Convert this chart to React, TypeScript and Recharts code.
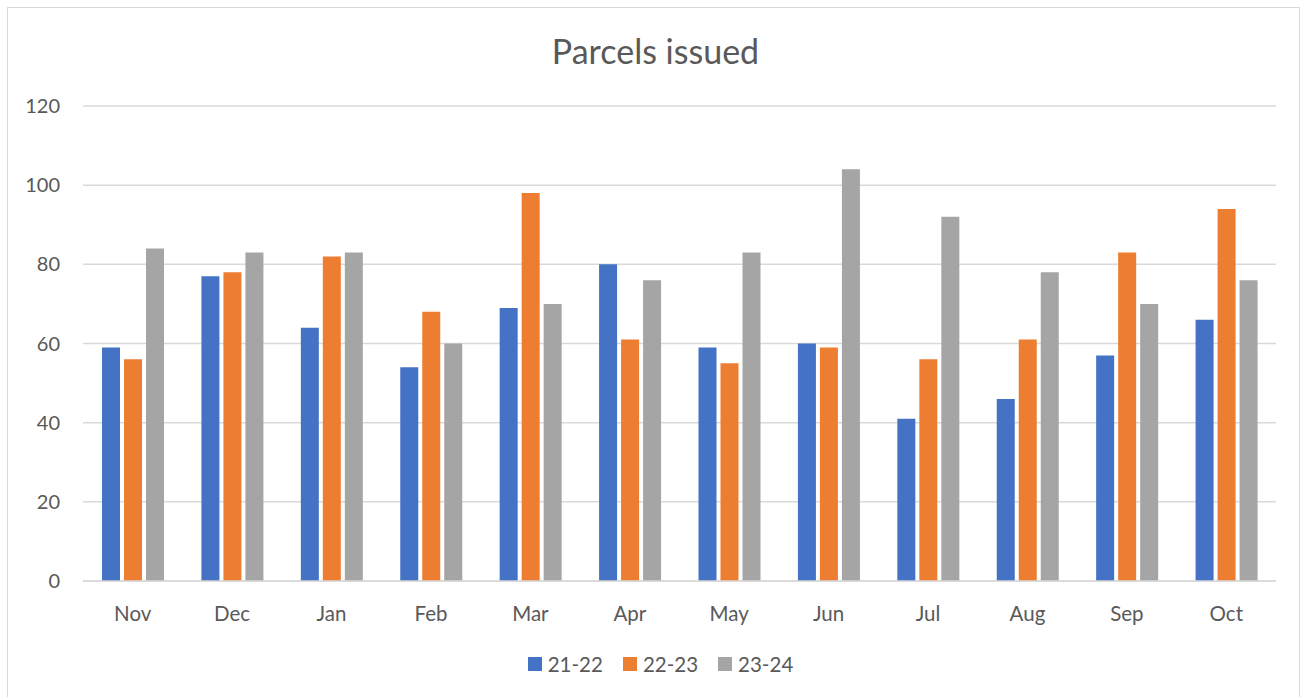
import { BarChart, Bar, XAxis, YAxis, CartesianGrid, Legend } from "recharts";

const months = ["Nov", "Dec", "Jan", "Feb", "Mar", "Apr", "May", "Jun", "Jul", "Aug", "Sep", "Oct"];
const y2122 = [59, 77, 64, 54, 69, 80, 59, 60, 41, 46, 57, 66];
const y2223 = [56, 78, 82, 68, 98, 61, 55, 59, 56, 61, 83, 94];
const y2324 = [84, 83, 83, 60, 70, 76, 83, 104, 92, 78, 70, 76];
const yTicks = [0, 20, 40, 60, 80, 100, 120];

const SERIES = [
  { key: "21-22", values: y2122, color: "#4472C4" },
  { key: "22-23", values: y2223, color: "#ED7D31" },
  { key: "23-24", values: y2324, color: "#A5A5A5" },
];

const FONT = "Lato, 'Open Sans', sans-serif";
const TEXT = "#595959";

const data = months.map((m, i) => {
  const row: any = { month: m };
  SERIES.forEach((s) => {
    row[s.key] = s.values[i];
  });
  return row;
});

function LegendBox() {
  return (
    <div style={{ display: "flex", justifyContent: "center", fontFamily: FONT, fontSize: 20.5, color: TEXT }}>
      {SERIES.map((s) => (
        <div key={s.key} style={{ display: "flex", alignItems: "center", margin: "0 10px" }}>
          <span style={{ width: 14, height: 14, background: s.color, marginRight: 6, display: "inline-block" }} />
          <span>{s.key}</span>
        </div>
      ))}
    </div>
  );
}

export default function App() {
  return (
    <div style={{ position: "absolute", left: 0, top: 0, width: 1305, height: 697, overflow: "hidden", background: "#fff" }}>
      {/* cadre du graphique, coupé en bas comme sur la capture */}
      <div
        style={{
          position: "absolute",
          left: 7,
          top: 7,
          width: 1291,
          height: 720,
          border: "1px solid #d9d9d9",
        }}
      />
      <div
        style={{
          position: "absolute",
          left: 0,
          top: 30,
          width: 1311,
          textAlign: "center",
          fontFamily: FONT,
          fontSize: 34,
          color: TEXT,
        }}
      >
        Parcels issued
      </div>
      <div style={{ position: "absolute", left: 0, top: 0 }}>
        <BarChart
          width={1305}
          height={697}
          data={data}
          margin={{ top: 106, right: 29, bottom: 76, left: 23 }}
          barSize={18}
          barGap={4}
        >
          <CartesianGrid vertical={false} stroke="#d9d9d9" strokeWidth={1.5} />
          <XAxis
            dataKey="month"
            height={40}
            axisLine={{ stroke: "#d9d9d9", strokeWidth: 1.5 }}
            tickLine={false}
            tickMargin={19}
            tick={{ fontSize: 20.5, fill: TEXT, fontFamily: FONT }}
          />
          <YAxis
            width={60}
            domain={[0, 120]}
            ticks={yTicks}
            axisLine={false}
            tickLine={false}
            tickMargin={17}
            tick={{ fontSize: 20, fill: TEXT, fontFamily: FONT }}
          />
          <Legend
            layout="horizontal"
            verticalAlign="middle"
            align="center"
            content={() => <LegendBox />}
            wrapperStyle={{ top: 652, left: 8, width: 1305 }}
          />
          {SERIES.map((s) => (
            <Bar key={s.key} dataKey={s.key} fill={s.color} isAnimationActive={false} />
          ))}
        </BarChart>
      </div>
    </div>
  );
}
